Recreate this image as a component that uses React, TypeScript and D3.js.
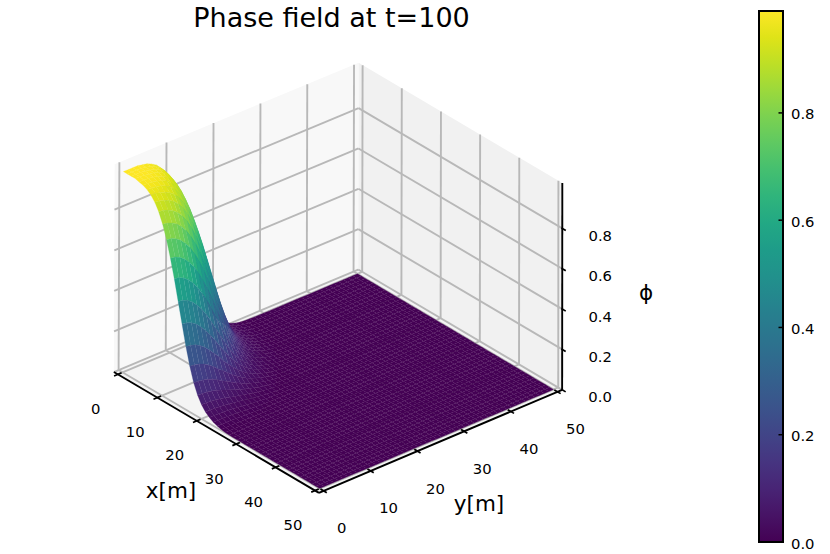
import React from "react";
import * as d3 from "d3";

const gridCoords: number[] = d3.range(0, 51);
const horizontalTicks = [0, 10, 20, 30, 40, 50];
const heightTicks = [0, 0.2, 0.4, 0.6, 0.8];
const colorbarTicks = [0, 0.2, 0.4, 0.6, 0.8];
const phiMax = 0.99;
const boxMin = -1;
const boxMax = 51;
const boxTop = 1.025;

// Phase value at radial distance 0, 1, 2, ... metres from the origin.
const radialProfile = [
  0.99, 0.99, 0.99, 0.99, 0.985, 0.98, 0.97, 0.955, 0.93, 0.895, 0.845, 0.78,
  0.7, 0.61, 0.51, 0.41, 0.31, 0.225, 0.155, 0.105, 0.07, 0.045, 0.03, 0.018, 0.01, 0.005, 0.002,
  0.001, 0, 0,
];

// Box corners as seen in the picture: world x, y, z, then pixel u, v.
const cameraFit: number[][] = [
  [-1, -1, 0, 114.5, 373.5],
  [51, -1, 0, 318, 492.5],
  [51, 51, 0, 562.7, 389.2],
  [-1, 51, 0, 358, 269],
  [-1, -1, 1.025, 115, 163],
  [51, 51, 1.025, 562.7, 184],
  [-1, 51, 1.025, 358, 63],
];

function solveCamera(fit: number[][]): number[] {
  const n = 11;
  const A = d3.range(n).map(() => new Array(n + 1).fill(0));
  const add = (row: number[], rhs: number) => {
    for (let i = 0; i < n; i++) {
      for (let j = 0; j < n; j++) A[i][j] += row[i] * row[j];
      A[i][n] += row[i] * rhs;
    }
  };
  for (const [x, y, z0, u, v] of fit) {
    const z = z0 * 50;
    add([x, y, z, 1, 0, 0, 0, 0, -u * x, -u * y, -u * z], u);
    add([0, 0, 0, 0, x, y, z, 1, -v * x, -v * y, -v * z], v);
  }
  for (let c = 0; c < n; c++) {
    let p = c;
    for (let r = c + 1; r < n; r++) if (Math.abs(A[r][c]) > Math.abs(A[p][c])) p = r;
    [A[c], A[p]] = [A[p], A[c]];
    for (let r = 0; r < n; r++) {
      if (r === c) continue;
      const f = A[r][c] / A[c][c];
      for (let k = c; k <= n; k++) A[r][k] -= f * A[c][k];
    }
  }
  return A.map((row, i) => row[n] / row[i]);
}

const cam = solveCamera(cameraFit);
const project = (x: number, y: number, z0: number): [number, number] => {
  const z = z0 * 50;
  const w = cam[8] * x + cam[9] * y + cam[10] * z + 1;
  return [
    (cam[0] * x + cam[1] * y + cam[2] * z + cam[3]) / w,
    (cam[4] * x + cam[5] * y + cam[6] * z + cam[7]) / w,
  ];
};

const phiAt = d3.scaleLinear<number>().domain(d3.range(radialProfile.length)).range(radialProfile).clamp(true);
const phi = (x: number, y: number) => phiAt(Math.hypot(x, y));
const color = d3.scaleSequential(d3.interpolateViridis).domain([0, phiMax]);
const line = d3.line();
const seg = (a: [number, number, number], b: [number, number, number]) =>
  line([project(...a), project(...b)]) as string;
const poly = (pts: [number, number, number][]) => (line(pts.map((p) => project(...p))) as string) + "Z";

const cells: { d: string; fill: string; order: number }[] = [];
for (const x of gridCoords.slice(0, -1)) {
  for (const y of gridCoords.slice(0, -1)) {
    const corners: [number, number, number][] = [
      [x, y, phi(x, y)],
      [x + 1, y, phi(x + 1, y)],
      [x + 1, y + 1, phi(x + 1, y + 1)],
      [x, y + 1, phi(x, y + 1)],
    ];
    cells.push({
      d: poly(corners),
      fill: color(d3.mean(corners, (c) => c[2]) as number),
      order: x - y,
    });
  }
}
cells.sort((a, b) => d3.ascending(a.order, b.order));

const font = "'DejaVu Sans', sans-serif";
const gridStyle = { stroke: "#b8b8b8", strokeWidth: 1.9, fill: "none" };
const barY = d3.scaleLinear().domain([0, phiMax]).range([542, 11]);

export default function App() {
  const gridLines: string[] = [];
  for (const z of heightTicks) {
    gridLines.push(seg([boxMin, boxMin, z], [boxMin, boxMax, z]));
    gridLines.push(seg([boxMin, boxMax, z], [boxMax, boxMax, z]));
  }
  for (const t of horizontalTicks) {
    gridLines.push(seg([boxMin, t, 0], [boxMin, t, boxTop]));
    gridLines.push(seg([t, boxMax, 0], [t, boxMax, boxTop]));
    gridLines.push(seg([t, boxMin, 0], [t, boxMax, 0]));
    gridLines.push(seg([boxMin, t, 0], [boxMax, t, 0]));
  }
  return (
    <svg
      width={830}
      height={554}
      style={{ position: "absolute", left: 0, top: 0, background: "#fff" }}
      fontFamily={font}
    >
      <defs>
        <linearGradient id="viridisBar" x1="0" y1="1" x2="0" y2="0">
          {d3.range(0, 1.001, 0.05).map((t) => (
            <stop key={t} offset={t} stopColor={d3.interpolateViridis(t)} />
          ))}
        </linearGradient>
      </defs>
      <text x={331.5} y={26.5} fontSize={27} textAnchor="middle" fill="#000">
        Phase field at t=100
      </text>

      <path d={poly([[boxMin, boxMin, 0], [boxMin, boxMax, 0], [boxMin, boxMax, boxTop], [boxMin, boxMin, boxTop]])} fill="#f8f8f8" />
      <path d={poly([[boxMin, boxMax, 0], [boxMax, boxMax, 0], [boxMax, boxMax, boxTop], [boxMin, boxMax, boxTop]])} fill="#f1f1f1" />
      <path d={poly([[boxMin, boxMin, 0], [boxMax, boxMin, 0], [boxMax, boxMax, 0], [boxMin, boxMax, 0]])} fill="#f4f4f4" />
      {gridLines.map((d, i) => (
        <path key={i} d={d} {...gridStyle} />
      ))}

      <g>
        {cells.map((c, i) => (
          <path key={i} d={c.d} fill={c.fill} stroke={c.fill} strokeWidth={0.22} />
        ))}
      </g>

      <g stroke="#000" fill="none">
        <path d={seg([boxMin, boxMin, 0], [boxMax, boxMin, 0])} strokeWidth={1.9} />
        <path d={seg([boxMax, boxMin, 0], [boxMax, boxMax, 0])} strokeWidth={1.9} />
        <path d={seg([boxMax, boxMax, 0], [boxMax, boxMax, boxTop])} strokeWidth={1.9} />
        {horizontalTicks.map((t) => (
          <path key={"x" + t} d={seg([t, boxMin - 0.8, 0], [t, boxMin + 0.8, 0])} strokeWidth={1.7} />
        ))}
        {horizontalTicks.map((t) => (
          <path key={"y" + t} d={seg([boxMax - 0.8, t, 0], [boxMax + 0.8, t, 0])} strokeWidth={1.7} />
        ))}
        {heightTicks.map((t) => (
          <path key={"z" + t} d={seg([boxMax - 0.2, boxMax, t], [boxMax + 0.9, boxMax, t])} strokeWidth={1.7} />
        ))}
      </g>

      <g fontSize={14.8} textAnchor="middle" dominantBaseline="central" fill="#000">
        {horizontalTicks.map((t) => {
          const [u, v] = project(t, boxMin, 0);
          return (
            <text key={"lx" + t} x={u - 22} y={v + 34}>
              {t}
            </text>
          );
        })}
        {horizontalTicks.map((t) => {
          const [u, v] = project(boxMax, t, 0);
          return (
            <text key={"ly" + t} x={u + 18} y={v + 37}>
              {t}
            </text>
          );
        })}
        {heightTicks.map((t) => {
          const [u, v] = project(boxMax, boxMax, t);
          return (
            <text key={"lz" + t} x={u + 38} y={v + 7}>
              {t.toFixed(1)}
            </text>
          );
        })}
      </g>
      <g fontSize={21.5} textAnchor="middle" dominantBaseline="central" fill="#000">
        <text x={171} y={490}>x[m]</text>
        <text x={479} y={503}>y[m]</text>
        <text x={646} y={292}>ϕ</text>
      </g>

      <rect x={759} y={11} width={24} height={531} fill="url(#viridisBar)" stroke="#000" strokeWidth={2} />
      {colorbarTicks.map((t) => (
        <g key={"c" + t}>
          <line x1={778.5} x2={783} y1={barY(t)} y2={barY(t)} stroke="#000" strokeWidth={1.5} />
          <text x={791} y={barY(t) + 1} fontSize={14.8} dominantBaseline="central" fill="#000">
            {t.toFixed(1)}
          </text>
        </g>
      ))}
    </svg>
  );
}
